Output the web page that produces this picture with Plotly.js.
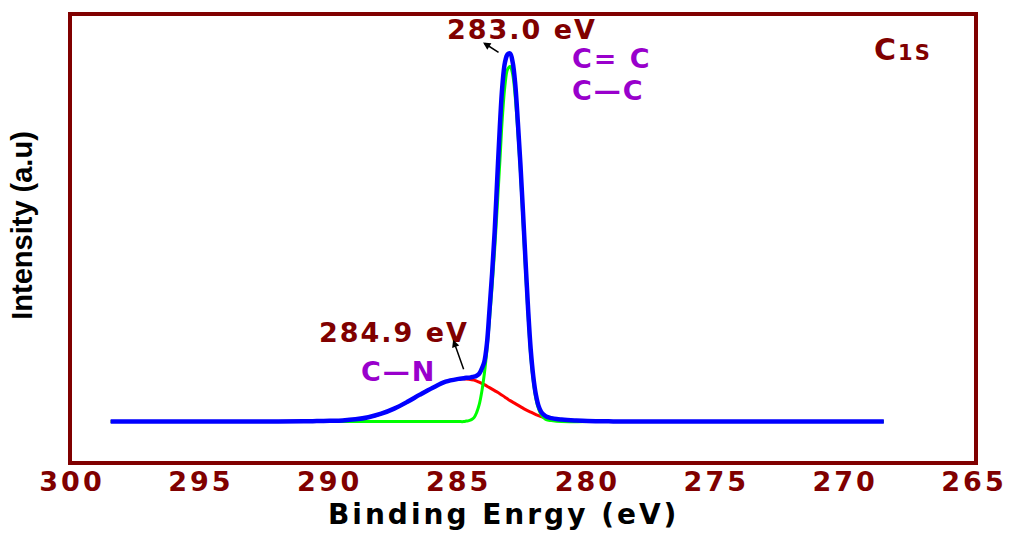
<!DOCTYPE html>
<html>
<head>
<meta charset="utf-8">
<script src="https://cdn.plot.ly/plotly-3.0.1.min.js"></script>
<style>
html, body { margin: 0; padding: 0; background: #fff; }
#chart { width: 1018px; height: 533px; }
#chart .xtick text { letter-spacing: 3px; }
#chart g.annotation text { letter-spacing: 2px; }
#chart g.annotation[data-index="8"] text { letter-spacing: 3px; }
#chart g.annotation[data-index="9"] text { letter-spacing: 0px; }
</style>
</head>
<body>
<div id="chart"></div>
<script>
// Binding energy (eV) and intensity (a.u., relative to baseline)
const envelopeEnergy = [298.5, 296.0, 294.0, 292.0, 291.0, 290.5, 290.0, 289.5, 289.0, 288.5, 288.0, 287.5, 287.0, 286.5, 286.0, 285.5, 285.0,
  284.8, 284.7, 284.6, 284.5, 284.4, 284.3, 284.2, 284.1, 284.0, 283.9, 283.8, 283.7, 283.6, 283.5, 283.4, 283.3, 283.2, 283.1, 283.0,
  282.9, 282.8, 282.7, 282.6, 282.5, 282.4, 282.3, 282.2, 282.1, 282.0, 281.9, 281.8, 281.7, 281.6, 281.4, 281.2, 281.0, 280.5, 280.0,
  279.0, 278.0, 276.0, 273.0, 270.0, 268.5];
const envelopeIntensity = [0, 0, 0, 0.1, 0.3, 0.5, 0.8, 1.2, 2.3, 4.4, 7.9, 13, 19.6, 27, 34, 40, 42.8,
  43.5, 44, 44, 44.5, 45, 46, 48, 53, 60, 78, 112, 148, 190, 243, 295, 337, 360, 368, 369,
  360, 338, 300, 258, 210, 160, 112, 72, 45, 27, 16, 10, 7, 5, 3.5, 2.5, 2, 1.2, 0.6,
  0.2, 0, 0, 0, 0, 0];

const ccEnergy = [298.5, 296.0, 294.0, 292.0, 290.0, 288.0, 286.5, 285.5, 285.0, 284.8, 284.7, 284.6, 284.5, 284.4, 284.3, 284.2, 284.1,
  284.0, 283.9, 283.8, 283.7, 283.6, 283.5, 283.4, 283.3, 283.2, 283.1, 283.0, 282.9, 282.8, 282.7, 282.6, 282.5, 282.4, 282.3,
  282.2, 282.1, 282.0, 281.9, 281.8, 281.7, 281.6, 281.4, 281.0, 280.0, 278.0, 276.0, 273.0, 270.0, 268.5];
const ccIntensity = [0, 0, 0, 0, 0, 0, 0, 0, 0, 0, 0.5, 1, 2, 4, 9, 17, 30,
  48, 72, 102, 135, 172, 215, 260, 305, 337, 353, 356, 348, 325, 290, 250, 200, 150, 105,
  65, 40, 23, 13, 7, 4, 2, 1, 0, 0, 0, 0, 0, 0, 0];

const cnEnergy = [298.5, 296.0, 294.0, 292.0, 291.0, 290.5, 290.0, 289.5, 289.0, 288.5, 288.0, 287.5, 287.0, 286.5, 286.0, 285.5, 285.0,
  284.87, 284.6, 284.4, 284.2, 284.0, 283.8, 283.6, 283.4, 283.2, 283.0, 282.8, 282.6, 282.4, 282.2, 282.0, 281.8, 281.6, 281.4,
  281.2, 281.0, 280.5, 280.0, 279.0, 278.0, 276.0, 273.0, 270.0, 268.5];
const cnIntensity = [0, 0, 0, 0.1, 0.3, 0.5, 0.8, 1.2, 2.3, 4.4, 7.9, 13, 19.6, 27, 34, 40, 42.8,
  43, 42.5, 41.5, 39.5, 37, 34, 31, 28, 24.5, 21, 18, 15, 12, 9.5, 7, 5, 3.5, 2.3,
  1.5, 1, 0.4, 0.1, 0, 0, 0, 0, 0, 0];

const xTicks = [300, 295, 290, 285, 280, 275, 270, 265];

const DARK_RED = '#800000';
const PURPLE = '#9900cc';
const BOLD = 'DejaVu Sans';

const traces = [
  { x: cnEnergy, y: cnIntensity, type: 'scatter', mode: 'lines', name: 'C–N',
    line: { color: '#ff0000', width: 3, shape: 'spline', smoothing: 1 } },
  { x: ccEnergy, y: ccIntensity, type: 'scatter', mode: 'lines', name: 'C=C / C–C',
    line: { color: '#00ff00', width: 3, shape: 'spline', smoothing: 1 } },
  { x: envelopeEnergy, y: envelopeIntensity, type: 'scatter', mode: 'lines', name: 'Envelope',
    line: { color: '#0000ff', width: 4.5, shape: 'spline', smoothing: 1 } }
];

const annFont = (size, color) => ({ family: BOLD, size: size, color: color, weight: 'bold' });

const layout = {
  width: 1018, height: 533,
  margin: { l: 71.5, r: 43.5, t: 15.5, b: 71.5 },
  paper_bgcolor: '#ffffff', plot_bgcolor: '#ffffff',
  showlegend: false,
  xaxis: {
    range: [300, 265], tickvals: xTicks, ticktext: xTicks.map(String),
    ticks: '', showgrid: false, zeroline: false, ticklabelstandoff: -6,
    showline: true, mirror: true, linecolor: DARK_RED, linewidth: 4,
    tickfont: annFont(27, DARK_RED)
  },
  yaxis: {
    range: [-39.5, 406.5], showticklabels: false, ticks: '',
    showgrid: false, zeroline: false,
    showline: true, mirror: true, linecolor: DARK_RED, linewidth: 4
  },
  annotations: [
    { xref: 'x', yref: 'y', x: 282.54, y: 393, text: '283.0 eV', showarrow: false, font: annFont(27, DARK_RED) },
    { xref: 'x', yref: 'y', x: 284.05, y: 380, ax: 17, ay: 11, text: '', showarrow: true,
      arrowhead: 2, arrowsize: 1, arrowwidth: 1.5, arrowcolor: '#000000' },
    { xref: 'x', yref: 'y', x: 279.05, y: 364, text: 'C= C', showarrow: false, font: annFont(27, PURPLE) },
    { xref: 'x', yref: 'y', x: 279.17, y: 332, text: 'C—C', showarrow: false, font: annFont(27, PURPLE) },
    { xref: 'x', yref: 'y', x: 287.5, y: 89, text: '284.9 eV', showarrow: false, font: annFont(27, DARK_RED) },
    { xref: 'x', yref: 'y', x: 285.21, y: 82, ax: 11, ay: 31, text: '', showarrow: true,
      arrowhead: 2, arrowsize: 1, arrowwidth: 1.5, arrowcolor: '#000000' },
    { xref: 'x', yref: 'y', x: 287.35, y: 50, text: 'C—N', showarrow: false, font: annFont(27, PURPLE) },
    { xref: 'x', yref: 'y', x: 267.77, y: 373, text: 'C<span style="font-size:21px">1S</span>', showarrow: false, font: annFont(30, DARK_RED) },
    { xref: 'paper', yref: 'paper', x: 0.478, y: -0.1205, xanchor: 'center', yanchor: 'middle',
      text: 'Binding Enrgy (eV)', showarrow: false, font: annFont(28, '#000000') },
    { xref: 'paper', yref: 'paper', x: -0.0548, y: 0.53, xanchor: 'center', yanchor: 'middle',
      text: 'Intensity (a.u)', showarrow: false, textangle: -90,
      font: { family: 'Liberation Sans', size: 29, color: '#000000', weight: 'bold' } }
  ]
};

Plotly.newPlot('chart', traces, layout, { displayModeBar: false, staticPlot: true });
</script>
</body>
</html>
